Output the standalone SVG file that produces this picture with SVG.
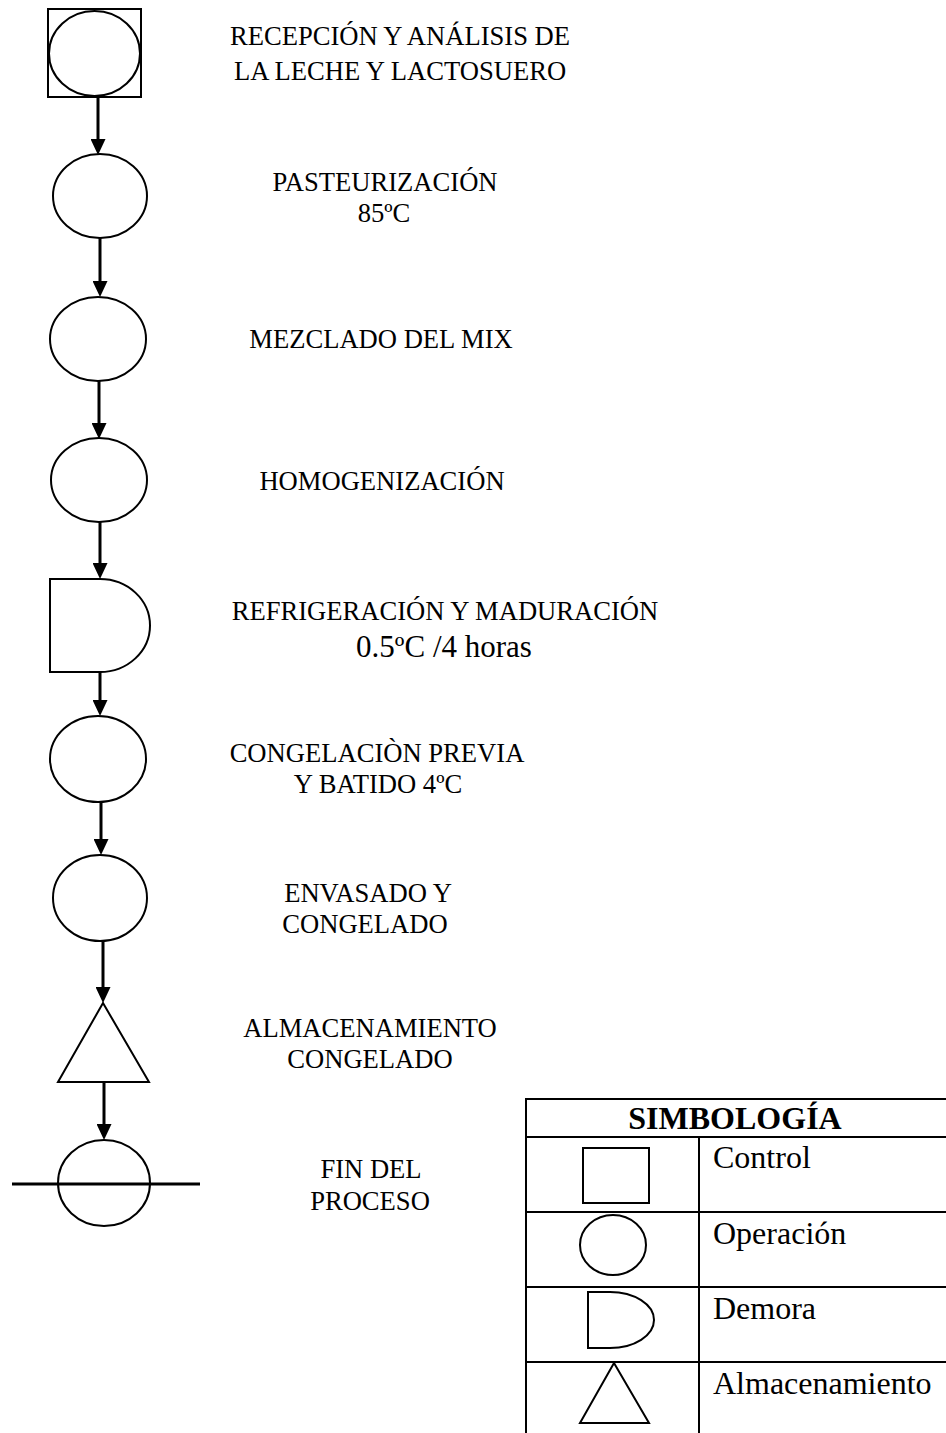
<svg xmlns="http://www.w3.org/2000/svg" width="946" height="1433" viewBox="0 0 946 1433">
<style>
.s{fill:#fff;stroke:#000;stroke-width:2}
.t{font-family:"Liberation Serif","Times New Roman",serif;font-size:26.6px;fill:#000;text-anchor:middle}
.l{font-family:"Liberation Serif","Times New Roman",serif;font-size:32px;fill:#000}
.h{font-family:"Liberation Serif","Times New Roman",serif;font-size:32px;font-weight:bold;fill:#000;text-anchor:middle}
.c{stroke:#000;stroke-width:3;fill:none}
.g{stroke:#000;stroke-width:2;fill:none}
</style>
<defs>
<marker id="ah" markerWidth="16" markerHeight="15" viewBox="0 0 16 15" refX="6" refY="7.5" orient="auto" markerUnits="userSpaceOnUse">
<path d="M0,0 L16,7.5 L0,15 z" fill="#000"/>
</marker>
</defs>
<rect width="946" height="1433" fill="#fff"/>
<g id="connectors">
<line class="c" x1="98" y1="97" x2="98" y2="145" marker-end="url(#ah)"/>
<line class="c" x1="100" y1="238" x2="100" y2="287" marker-end="url(#ah)"/>
<line class="c" x1="99" y1="381" x2="99" y2="429" marker-end="url(#ah)"/>
<line class="c" x1="100" y1="522" x2="100" y2="569" marker-end="url(#ah)"/>
<line class="c" x1="100" y1="672" x2="100" y2="706" marker-end="url(#ah)"/>
<line class="c" x1="101" y1="802" x2="101" y2="845" marker-end="url(#ah)"/>
<line class="c" x1="103" y1="941" x2="103" y2="993" marker-end="url(#ah)"/>
<line class="c" x1="104" y1="1083" x2="104" y2="1130" marker-end="url(#ah)"/>
</g>
<g id="n1">
<rect class="s" x="48" y="9" width="93" height="88"/>
<ellipse class="s" cx="94.5" cy="53.5" rx="45.5" ry="42.5"/>
<text class="t" x="400" y="45">RECEPCIÓN Y ANÁLISIS DE</text>
<text class="t" x="400" y="80">LA LECHE Y LACTOSUERO</text>
</g>
<g id="n2">
<ellipse class="s" cx="100" cy="196" rx="47" ry="42"/>
<text class="t" x="385" y="191">PASTEURIZACIÓN</text>
<text class="t" x="384" y="222">85ºC</text>
</g>
<g id="n3">
<ellipse class="s" cx="98" cy="339" rx="48" ry="42"/>
<text class="t" x="381" y="348">MEZCLADO DEL MIX</text>
</g>
<g id="n4">
<ellipse class="s" cx="99" cy="480" rx="48" ry="42"/>
<text class="t" x="382" y="490">HOMOGENIZACIÓN</text>
</g>
<g id="n5">
<path class="s" d="M50,579 H100 A50,46.5 0 0 1 100,672 H50 Z"/>
<text class="t" x="445" y="620">REFRIGERACIÓN Y MADURACIÓN</text>
<text class="t" x="444" y="657" style="font-size:31px">0.5ºC /4 horas</text>
</g>
<g id="n6">
<ellipse class="s" cx="98" cy="759" rx="48" ry="43"/>
<text class="t" x="377" y="762">CONGELACIÒN PREVIA</text>
<text class="t" x="378" y="793">Y BATIDO 4ºC</text>
</g>
<g id="n7">
<ellipse class="s" cx="100" cy="898" rx="47" ry="43"/>
<text class="t" x="368" y="902">ENVASADO Y</text>
<text class="t" x="365" y="933">CONGELADO</text>
</g>
<g id="n8">
<polygon class="s" points="103,1003 149,1082 58,1082"/>
<text class="t" x="370" y="1037">ALMACENAMIENTO</text>
<text class="t" x="370" y="1068">CONGELADO</text>
</g>
<g id="n9">
<ellipse class="s" cx="104" cy="1183" rx="46" ry="43"/>
<line class="c" x1="12" y1="1184" x2="200" y2="1184"/>
<text class="t" x="371" y="1178">FIN DEL</text>
<text class="t" x="370" y="1210">PROCESO</text>
</g>
<g id="legend">
<line class="g" x1="525" y1="1099" x2="946" y2="1099"/>
<line class="g" x1="526" y1="1098" x2="526" y2="1433"/>
<line class="g" x1="526" y1="1137" x2="946" y2="1137"/>
<line class="g" x1="699" y1="1137" x2="699" y2="1433"/>
<line class="g" x1="526" y1="1212" x2="946" y2="1212"/>
<line class="g" x1="526" y1="1287" x2="946" y2="1287"/>
<line class="g" x1="526" y1="1362" x2="946" y2="1362"/>
<text class="h" x="735" y="1129">SIMBOLOGÍA</text>
<rect class="s" x="583" y="1148" width="66" height="55"/>
<ellipse class="s" cx="613" cy="1245" rx="33" ry="30"/>
<path class="s" d="M588,1292 H610 A44,28 0 0 1 610,1348 H588 Z"/>
<polygon class="s" points="614,1363 649,1423 580,1423"/>
<text class="l" x="713" y="1168">Control</text>
<text class="l" x="713" y="1244">Operación</text>
<text class="l" x="713" y="1319">Demora</text>
<text class="l" x="713" y="1394">Almacenamiento</text>
</g>
</svg>
